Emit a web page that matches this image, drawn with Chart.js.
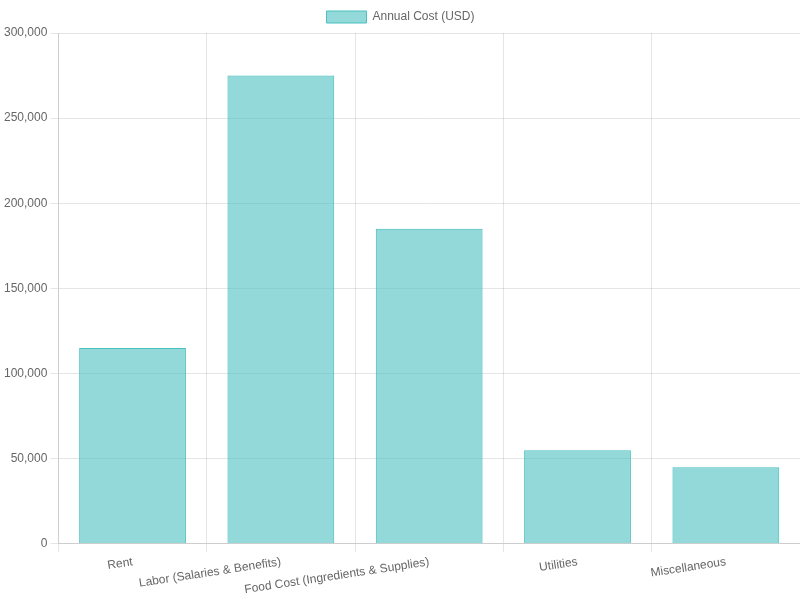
<!DOCTYPE html>
<html>
<head>
<meta charset="utf-8">
<script src="https://cdn.jsdelivr.net/npm/chart.js@4"></script>
<style>
html,body{margin:0;padding:0;background:#fff;}
#wrap{width:800px;height:600px;}
</style>
</head>
<body>
<div id="wrap"><canvas id="c"></canvas></div>
<script>
const categories = ["Rent", "Labor (Salaries & Benefits)", "Food Cost (Ingredients & Supplies)", "Utilities", "Miscellaneous"];
const annualCost = [115000, 275000, 185000, 55000, 45000];
const seriesLabel = "Annual Cost (USD)";

new Chart(document.getElementById('c'), {
  type: 'bar',
  data: {
    labels: categories,
    datasets: [{
      label: seriesLabel,
      data: annualCost,
      backgroundColor: 'rgba(75, 192, 192, 0.6)',
      borderColor: 'rgba(75, 192, 192, 1)',
      borderWidth: 1
    }]
  },
  options: {
    responsive: true,
    maintainAspectRatio: false,
    animation: false,
    layout: { padding: { left: 1, top: 1 } },
    scales: {
      y: {
        beginAtZero: true,
        max: 300000,
        ticks: { stepSize: 50000 }
      }
    }
  }
});
</script>
</body>
</html>
